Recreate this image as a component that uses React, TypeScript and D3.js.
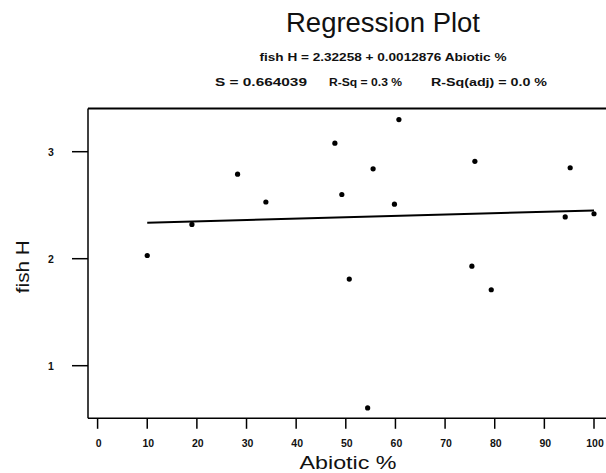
import React from "react";
import * as d3 from "d3";

const abiotic = [10, 19, 28.2, 33.9, 47.8, 49.2, 50.7, 54.4, 55.5, 59.8, 60.7, 75.4, 76.0, 79.3, 94.2, 95.2, 100];
const fishH = [2.03, 2.32, 2.79, 2.53, 3.08, 2.6, 1.81, 0.605, 2.84, 2.51, 3.3, 1.93, 2.91, 1.71, 2.39, 2.85, 2.42];
const intercept = 2.32258;
const slope = 0.0012876;
const xTicks = [0, 10, 20, 30, 40, 50, 60, 70, 80, 90, 100];
const yTicks = [1, 2, 3];
const titleText = "Regression Plot";
const equationText = "fish H = 2.32258 + 0.0012876 Abiotic %";
const statsTexts = ["S = 0.664039", "R-Sq = 0.3 %", "R-Sq(adj) = 0.0 %"];
const xLabel = "Abiotic %";
const yLabel = "fish H";

const FONT = "'Liberation Sans', Arial, Helvetica, sans-serif";

export default function App() {
  const W = 606;
  const H = 473;
  const frame = { left: 88, top: 108.5, bottom: 418.3, right: 640 };
  const x = d3.scaleLinear().domain([0, 100]).range([97.6, 594]);
  const y = d3.scaleLinear().domain([1, 3]).range([365.7, 151.7]);

  const xMin = d3.min(abiotic) as number;
  const xMax = d3.max(abiotic) as number;
  const lineGen = d3
    .line<number>()
    .x((d) => x(d))
    .y((d) => y(intercept + slope * d));

  const statsX = [215, 329, 431];
  const statsW = [92, 73, 116];

  return (
    <svg
      width={W}
      height={H}
      style={{ position: "absolute", left: 0, top: 0, background: "#fff" }}
      fontFamily={FONT}
    >
      <rect x={0} y={0} width={W} height={H} fill="#fff" />
      {/* Title */}
      <text x={383} y={31.7} textAnchor="middle" fontSize={27} textLength={194} lengthAdjust="spacingAndGlyphs" fill="#111">
        {titleText}
      </text>
      <text x={383} y={61} textAnchor="middle" fontSize={11} fontWeight="bold" textLength={247} lengthAdjust="spacingAndGlyphs" fill="#111">
        {equationText}
      </text>
      {statsTexts.map((t, i) => (
        <text key={t} x={statsX[i]} y={85.7} fontSize={11} fontWeight="bold" textLength={statsW[i]} lengthAdjust="spacingAndGlyphs" fill="#111">
          {t}
        </text>
      ))}

      {/* Frame */}
      <line x1={frame.left} x2={frame.right} y1={frame.top} y2={frame.top} stroke="#000" strokeWidth={2} />
      <line x1={frame.left} x2={frame.right} y1={frame.bottom} y2={frame.bottom} stroke="#000" strokeWidth={1.5} />
      <line x1={frame.left} x2={frame.left} y1={frame.top} y2={frame.bottom} stroke="#000" strokeWidth={1.5} />

      {/* X ticks */}
      {xTicks.map((t) => (
        <g key={"xt" + t}>
          <line x1={x(t)} x2={x(t)} y1={frame.bottom} y2={frame.bottom + 10.5} stroke="#000" strokeWidth={1.5} />
          <text x={x(t) + 1} y={446.7} textAnchor="middle" fontSize={10.5} fontWeight="bold" fill="#111">
            {t}
          </text>
        </g>
      ))}
      {/* Y ticks */}
      {yTicks.map((t) => (
        <g key={"yt" + t}>
          <line x1={frame.left - 16} x2={frame.left} y1={y(t)} y2={y(t)} stroke="#000" strokeWidth={1.5} />
          <text x={51} y={y(t) + 3.8} textAnchor="middle" fontSize={10.5} fontWeight="bold" fill="#111">
            {t}
          </text>
        </g>
      ))}

      {/* Regression line */}
      <path d={lineGen([xMin, xMax]) || ""} fill="none" stroke="#000" strokeWidth={2} />

      {/* Points */}
      {abiotic.map((a, i) => (
        <circle key={"p" + i} cx={x(a)} cy={y(fishH[i])} r={2.6} fill="#000" />
      ))}

      {/* Axis labels */}
      <text x={348} y={469.3} textAnchor="middle" fontSize={17.5} textLength={97} lengthAdjust="spacingAndGlyphs" fill="#111">
        {xLabel}
      </text>
      <text
        transform={`translate(${28.5},${266.7}) rotate(-90)`}
        textAnchor="middle"
        fontSize={18}
        textLength={53}
        lengthAdjust="spacingAndGlyphs"
        fill="#111"
      >
        {yLabel}
      </text>
    </svg>
  );
}
